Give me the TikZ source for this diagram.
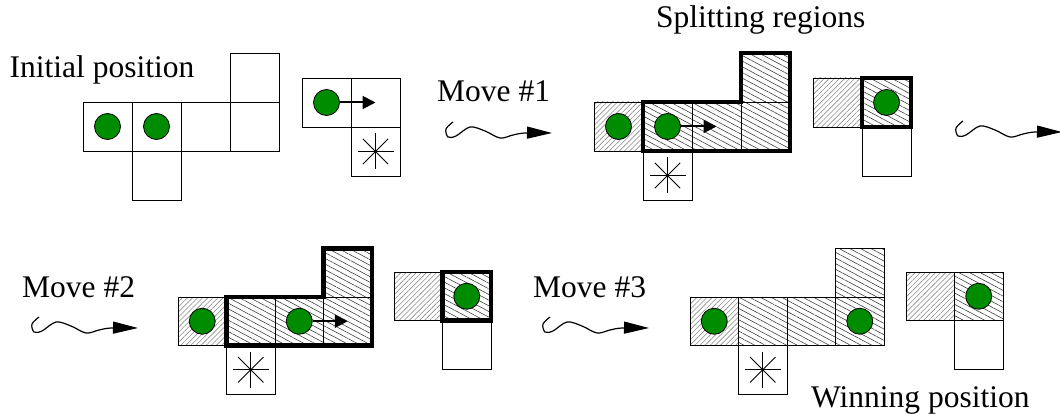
\documentclass[tikz,border=0pt]{standalone}
\usepackage{fontspec}
\setmainfont{Liberation Serif}
\usetikzlibrary{arrows.meta,patterns.meta}
\definecolor{stonegreen}{RGB}{0,140,0}
\tikzset{
  cellbox/.style={draw=black, line width=0.9pt},
  hatchA/.style={pattern={Lines[angle=45,distance=3.6pt,line width=0.6pt]}, pattern color=black!45},
  hatchB/.style={pattern={Lines[angle=-28,distance=5pt,line width=0.6pt]}, pattern color=black!75},
  region/.style={draw=black, line width=4.5pt, line join=miter},
  stone/.style={circle, draw=black, line width=0.8pt, fill=stonegreen, minimum size=26pt, inner sep=0pt},
  movearrow/.style={line width=2pt, -{Triangle[length=13pt,width=13pt]}},
  wavy/.style={line width=1.2pt, -{Triangle[length=25pt,width=12pt]}},
  txt/.style={font=\fontsize{31.5}{36}\selectfont, inner sep=0pt, anchor=base west},
  starmark/.pic={\foreach \a in {0,45,90,135} \draw[line width=0.9pt] (\a:18pt) -- (\a+180:18pt);},
  wave/.pic={\draw[wavy] plot[smooth,tension=0.55] coordinates {(0,0) (-7,7) (-5,15) (3,14) (17,5) (32,9) (47,16) (60,13) (72,11) (99,11)};},
}
\begin{document}
\begin{tikzpicture}[x=1pt,y=-1pt]
\useasboundingbox (0,0) rectangle (1060,414);

% texts
\node[txt] (t0) at (9.5,78) {Initial position};
\node[txt] (t1) at (656,28) {Splitting regions};
\node[txt] (t2) at (437,102) {Move \#1};
\node[txt] (t3) at (22,297) {Move \#2};
\node[txt] (t4) at (533,297) {Move \#3};
\node[txt] (t5) at (811,407) {Winning position};

% wavy arrows
\pic at (453,122) {wave};
\pic at (963,121) {wave};
\pic at (39,317) {wave};
\pic at (550,317) {wave};

% ---------- grid 1: initial position ----------
\begin{scope}[shift={(83,102)}, x=49pt, y=-49pt]
  \draw[cellbox] (0,0) rectangle (1,1);
  \draw[cellbox] (1,0) rectangle (2,1);
  \draw[cellbox] (2,0) rectangle (3,1);
  \draw[cellbox] (3,0) rectangle (4,1);
  \draw[cellbox] (3,-1) rectangle (4,0);
  \draw[cellbox] (1,1) rectangle (2,2);
  \node[stone] (g1a) at (0.5,0.5) {};
  \node[stone] (g1b) at (1.5,0.5) {};
\end{scope}

% ---------- small grid 1 ----------
\begin{scope}[shift={(302,78)}, x=49pt, y=-49pt]
  \draw[cellbox] (0,0) rectangle (1,1);
  \draw[cellbox] (1,0) rectangle (2,1);
  \draw[cellbox] (1,1) rectangle (2,2);
  \pic at (1.5,1.5) {starmark};
  \node[stone] (h1a) at (0.5,0.5) {};
  \coordinate (h1t) at (1.5,0.5);
  \draw[movearrow] (h1a.east) -- (h1t);
\end{scope}

% ---------- grid 2 ----------
\begin{scope}[shift={(594,102)}, x=49pt, y=-49pt]
  \draw[cellbox, hatchA] (0,0) rectangle (1,1);
  \draw[cellbox, hatchB] (1,0) rectangle (2,1);
  \draw[cellbox, hatchB] (2,0) rectangle (3,1);
  \draw[cellbox, hatchB] (3,0) rectangle (4,1);
  \draw[cellbox, hatchB] (3,-1) rectangle (4,0);
  \draw[cellbox] (1,1) rectangle (2,2);
  \pic at (1.5,1.5) {starmark};
  \draw[region] (1,0) -- (3,0) -- (3,-1) -- (4,-1) -- (4,1) -- (1,1) -- cycle;
  \node[stone] (g2a) at (0.5,0.5) {};
  \node[stone] (g2b) at (1.5,0.5) {};
  \coordinate (g2t) at (2.5,0.5);
  \draw[movearrow] (g2b.east) -- (g2t);
\end{scope}

% ---------- small grid 2 ----------
\begin{scope}[shift={(813,78)}, x=49pt, y=-49pt]
  \draw[cellbox, hatchA] (0,0) rectangle (1,1);
  \draw[cellbox, hatchB] (1,0) rectangle (2,1);
  \draw[cellbox] (1,1) rectangle (2,2);
  \draw[region] (1,0) rectangle (2,1);
  \node[stone] (h2a) at (1.5,0.5) {};
\end{scope}

% ---------- grid 3 ----------
\begin{scope}[shift={(178,297)}, x=48.5pt, y=-48.5pt]
  \draw[cellbox, hatchA] (0,0) rectangle (1,1);
  \draw[cellbox, hatchB] (1,0) rectangle (2,1);
  \draw[cellbox, hatchB] (2,0) rectangle (3,1);
  \draw[cellbox, hatchB] (3,0) rectangle (4,1);
  \draw[cellbox, hatchB] (3,-1) rectangle (4,0);
  \draw[cellbox] (1,1) rectangle (2,2);
  \pic at (1.5,1.5) {starmark};
  \draw[region] (1,0) -- (3,0) -- (3,-1) -- (4,-1) -- (4,1) -- (1,1) -- cycle;
  \node[stone] (g3a) at (0.5,0.5) {};
  \node[stone] (g3b) at (2.5,0.5) {};
  \coordinate (g3t) at (3.5,0.5);
  \draw[movearrow] (g3b.east) -- (g3t);
\end{scope}

% ---------- small grid 3 ----------
\begin{scope}[shift={(394,272)}, x=48.5pt, y=-48.5pt]
  \draw[cellbox, hatchA] (0,0) rectangle (1,1);
  \draw[cellbox, hatchB] (1,0) rectangle (2,1);
  \draw[cellbox] (1,1) rectangle (2,2);
  \draw[region] (1,0) rectangle (2,1);
  \node[stone] (h3a) at (1.5,0.5) {};
\end{scope}

% ---------- grid 4 ----------
\begin{scope}[shift={(690,297)}, x=48.5pt, y=-48.5pt]
  \draw[cellbox, hatchA] (0,0) rectangle (1,1);
  \draw[cellbox, hatchB] (1,0) rectangle (2,1);
  \draw[cellbox, hatchB] (2,0) rectangle (3,1);
  \draw[cellbox, hatchB] (3,0) rectangle (4,1);
  \draw[cellbox, hatchB] (3,-1) rectangle (4,0);
  \draw[cellbox] (1,1) rectangle (2,2);
  \pic at (1.5,1.5) {starmark};
  \node[stone] (g4a) at (0.5,0.5) {};
  \node[stone] (g4b) at (3.5,0.5) {};
\end{scope}

% ---------- small grid 4 ----------
\begin{scope}[shift={(906,272)}, x=48.5pt, y=-48.5pt]
  \draw[cellbox, hatchA] (0,0) rectangle (1,1);
  \draw[cellbox, hatchB] (1,0) rectangle (2,1);
  \draw[cellbox] (1,1) rectangle (2,2);
  \node[stone] (h4a) at (1.5,0.5) {};
\end{scope}
\end{tikzpicture}
\end{document}
